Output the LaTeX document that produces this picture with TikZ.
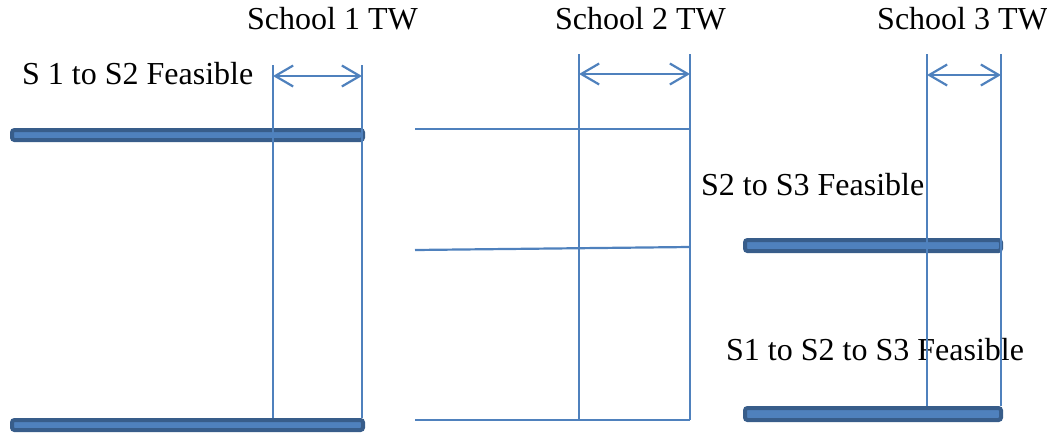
\documentclass[tikz,border=0pt]{standalone}
\usepackage{fontspec}
\setmainfont{Liberation Serif}
\usetikzlibrary{arrows.meta}
\definecolor{lineblue}{HTML}{4F81BD}
\definecolor{edgeblue}{HTML}{385D8A}
\begin{document}
\begin{tikzpicture}[x=1pt,y=-1pt,
  caption/.style={inner sep=0pt, anchor=base west, font=\fontsize{32}{38}\selectfont},
  guide/.style={draw=lineblue, line width=2.2pt},
  span/.style={guide, {Straight Barb[length=18pt,width=21pt]}-{Straight Barb[length=18pt,width=21pt]}},
  bar/.style={draw=edgeblue, fill=lineblue, line width=4pt, rounded corners=2.5pt}]
\useasboundingbox (0,0) rectangle (1047,434);

% time-window headings
\node[caption] (h1) at (247,29) {School 1 TW};
\node[caption] (h2) at (555,29) {School 2 TW};
\node[caption] (h3) at (877,29) {School 3 TW};

% feasibility labels
\node[caption] (f12)  at (22,84)   {S 1 to S2 Feasible};
\node[caption] (f23)  at (701,195) {S2 to S3 Feasible};
\node[caption] (f123) at (726,360) {S1 to S2 to S3 Feasible};

% thick route bars
\draw[bar] (12,130) rectangle (363,140);
\draw[bar] (12,420) rectangle (363,430);
\draw[bar] (745,240) rectangle (1001,251);
\draw[bar] (745,408) rectangle (1001,420);

% window boundaries
\coordinate (a1) at (273,65);  \coordinate (a2) at (273,418);
\coordinate (b1) at (362,65);  \coordinate (b2) at (362,418);
\coordinate (c1) at (579,54);  \coordinate (c2) at (579,420);
\coordinate (d1) at (690,54);  \coordinate (d2) at (690,420);
\coordinate (e1) at (927,54);  \coordinate (e2) at (927,406);
\coordinate (g1) at (1001,54); \coordinate (g2) at (1001,406);
\draw[guide] (a1) -- (a2);
\draw[guide] (b1) -- (b2);
\draw[guide] (c1) -- (c2);
\draw[guide] (d1) -- (d2);
\draw[guide] (e1) -- (e2);
\draw[guide] (g1) -- (g2);

% window widths
\coordinate (wa) at (273,76);  \coordinate (wb) at (362,76);
\coordinate (wc) at (579,74);  \coordinate (wd) at (690,74);
\coordinate (we) at (927,75);  \coordinate (wg) at (1001,75);
\draw[span] (wa) -- (wb);
\draw[span] (wc) -- (wd);
\draw[span] (we) -- (wg);

% arrival lines at school 2
\coordinate (r1) at (415,129); \coordinate (s1) at (690,129);
\coordinate (r2) at (415,250); \coordinate (s2) at (690,247);
\coordinate (r3) at (415,420); \coordinate (s3) at (690,420);
\draw[guide] (r1) -- (s1);
\draw[guide] (r2) -- (s2);
\draw[guide] (r3) -- (s3);
\end{tikzpicture}
\end{document}
